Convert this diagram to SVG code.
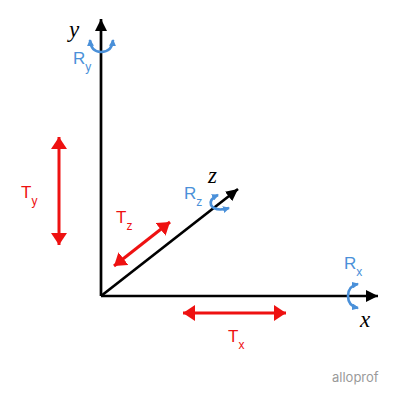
<svg xmlns="http://www.w3.org/2000/svg" width="400" height="402" viewBox="0 0 400 402">
<style>
.axis{stroke:#000;stroke-width:2.7;fill:none}
.tr{stroke:#ee1111;stroke-width:3;fill:none}
.rot{stroke:#4a90d9;stroke-width:2.6;fill:none}
.lblR{font-family:"Liberation Sans",Arial,sans-serif;font-size:17px;fill:#4a90d9}
.lblT{font-family:"Liberation Sans",Arial,sans-serif;font-size:17px;fill:#ee1111}
.sub{font-size:12px}
.ax{font-family:"Liberation Serif","Times New Roman",serif;font-style:italic;font-size:23px;fill:#000}
</style>
<defs>
<marker id="ab" viewBox="0 0 12 12" refX="12" refY="6" markerWidth="12" markerHeight="12" markerUnits="userSpaceOnUse" orient="auto"><path d="M0,0 L12,6 L0,12 Z" fill="#000"/></marker>
<marker id="ar" viewBox="0 0 12 16" refX="12" refY="8" markerWidth="12" markerHeight="16" markerUnits="userSpaceOnUse" orient="auto-start-reverse"><path d="M0,0 L12,8 L0,16 Z" fill="#ee1111"/></marker>
<marker id="abl" viewBox="0 0 7 7" refX="6" refY="3.5" markerWidth="7" markerHeight="7" markerUnits="userSpaceOnUse" orient="auto-start-reverse"><path d="M0,0 L7,3.5 L0,7 Z" fill="#4a90d9"/></marker>
</defs>
<g id="connectors">
<line id="y-axis" class="axis" x1="101" y1="296" x2="101" y2="19" marker-end="url(#ab)"/>
<line id="x-axis" class="axis" x1="101" y1="296" x2="378" y2="296" marker-end="url(#ab)"/>
<line id="z-axis" class="axis" x1="101" y1="296" x2="238" y2="189" marker-end="url(#ab)"/>
<line id="ty-arrow" class="tr" x1="59" y1="137" x2="59" y2="245" marker-start="url(#ar)" marker-end="url(#ar)"/>
<line id="tx-arrow" class="tr" x1="183" y1="313" x2="286" y2="313" marker-start="url(#ar)" marker-end="url(#ar)"/>
<line id="tz-arrow" class="tr" x1="114" y1="266" x2="170" y2="222" marker-start="url(#ar)" marker-end="url(#ar)"/>
<path id="ry-rot" class="rot" d="M90,40 Q91,52 101,52 Q112,52 113,40" marker-start="url(#abl)" marker-end="url(#abl)"/>
<path id="rx-rot" class="rot" d="M358,284 Q348,286 348,296 Q348,306 358,308" marker-start="url(#abl)" marker-end="url(#abl)"/>
<path id="rz-rot" class="rot" d="M218,195 Q209,199 211,205 Q215,212 229,208" marker-start="url(#abl)" marker-end="url(#abl)"/>
</g>
<g id="label-y"><text class="ax" x="69" y="37">y</text></g>
<g id="label-x"><text class="ax" x="360" y="327">x</text></g>
<g id="label-z"><text class="ax" x="208" y="183">z</text></g>
<g id="Ry"><text class="lblR" x="73" y="64">R<tspan class="sub" dy="7">y</tspan></text></g>
<g id="Rx"><text class="lblR" x="344" y="269">R<tspan class="sub" dy="7">x</tspan></text></g>
<g id="Rz"><text class="lblR" x="184" y="199">R<tspan class="sub" dy="7">z</tspan></text></g>
<g id="Ty"><text class="lblT" x="21" y="198">T<tspan class="sub" dy="7">y</tspan></text></g>
<g id="Tz"><text class="lblT" x="116" y="223">T<tspan class="sub" dy="7">z</tspan></text></g>
<g id="Tx"><text class="lblT" x="228" y="342">T<tspan class="sub" dy="7">x</tspan></text></g>
<g id="logo"><text x="332" y="382" font-family="Inter,'Liberation Sans',sans-serif" font-size="13" fill="#9a9a9a">alloprof</text></g>
</svg>
